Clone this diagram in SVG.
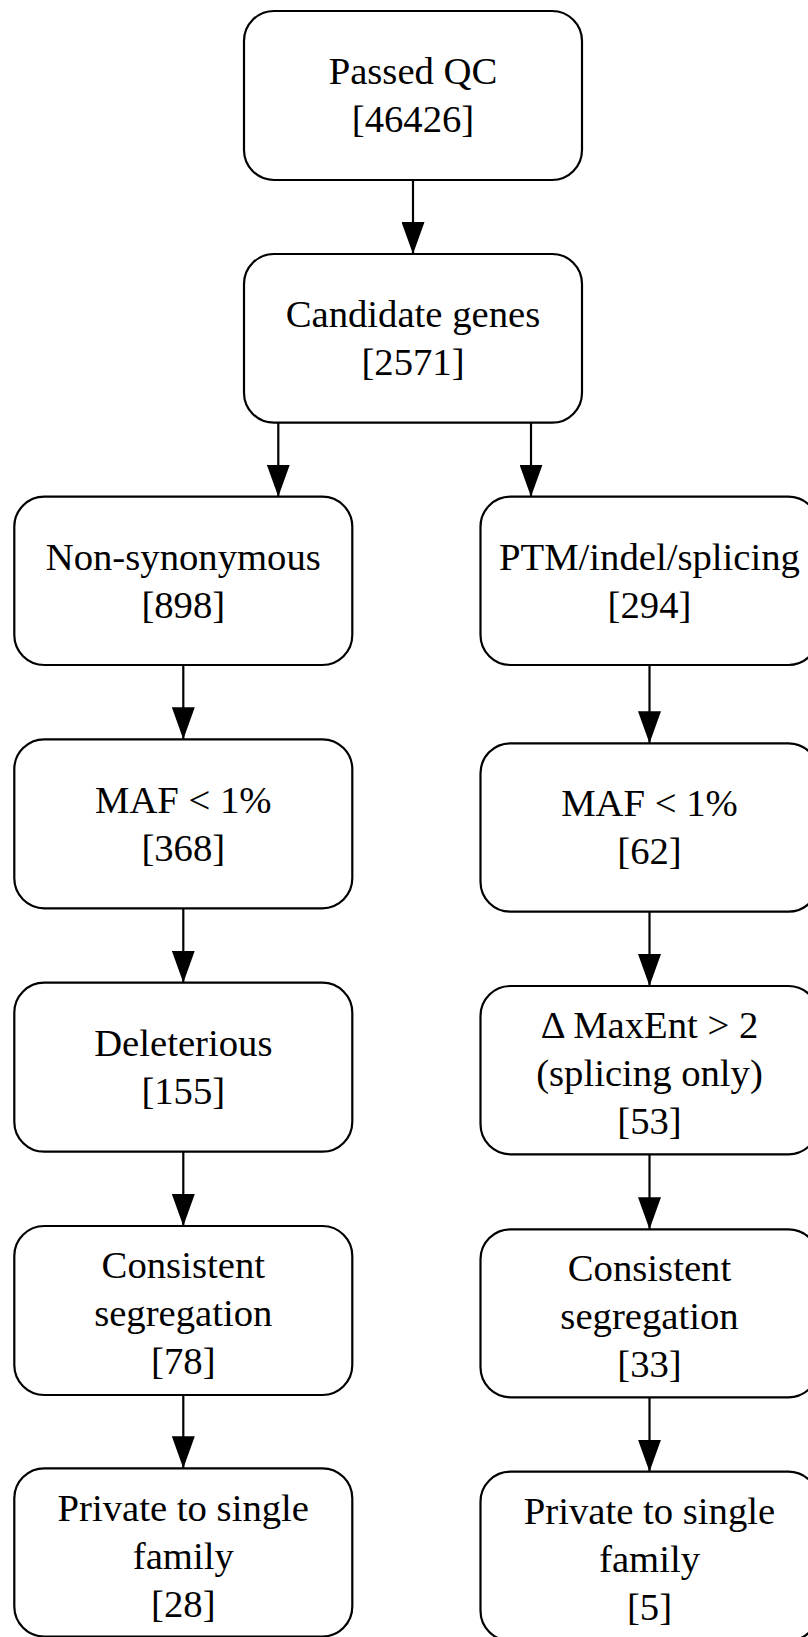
<svg xmlns="http://www.w3.org/2000/svg" width="808" height="1637" viewBox="0 0 808 1637">
<style>
.box{fill:#ffffff;stroke:#000000;stroke-width:2.2}
.lbl{font-family:"Liberation Serif","Times New Roman",serif;font-size:38.7px;fill:#000000;text-anchor:middle}
.edge{stroke:#000000;stroke-width:2.2;fill:none}
</style>
<defs>
<marker id="ah" viewBox="0 0 32 23" refX="32" refY="11.5" markerWidth="32" markerHeight="23" markerUnits="userSpaceOnUse" orient="auto">
<path d="M0,0 L32,11.5 L0,23 z" fill="#000000"/>
</marker>
</defs>
<rect width="808" height="1637" fill="#ffffff"/>
<g id="connectors">
<line class="edge" x1="413" y1="180" x2="413" y2="254" marker-end="url(#ah)"/>
<line class="edge" x1="278.3" y1="422.7" x2="278.3" y2="496.7" marker-end="url(#ah)"/>
<line class="edge" x1="531" y1="422.7" x2="531" y2="496.7" marker-end="url(#ah)"/>
<line class="edge" x1="183.3" y1="665" x2="183.3" y2="739.3" marker-end="url(#ah)"/>
<line class="edge" x1="183.3" y1="908.3" x2="183.3" y2="982.7" marker-end="url(#ah)"/>
<line class="edge" x1="183.3" y1="1151.7" x2="183.3" y2="1226" marker-end="url(#ah)"/>
<line class="edge" x1="183.3" y1="1395" x2="183.3" y2="1468.3" marker-end="url(#ah)"/>
<line class="edge" x1="649.5" y1="665" x2="649.5" y2="743.3" marker-end="url(#ah)"/>
<line class="edge" x1="649.5" y1="911.7" x2="649.5" y2="986" marker-end="url(#ah)"/>
<line class="edge" x1="649.5" y1="1154.3" x2="649.5" y2="1229.3" marker-end="url(#ah)"/>
<line class="edge" x1="649.5" y1="1397.3" x2="649.5" y2="1471.7" marker-end="url(#ah)"/>
</g>
<g id="passed_qc">
<rect class="box" x="244" y="11" width="338" height="169" rx="30" ry="30"/>
<text class="lbl" x="413" y="84.3">Passed QC</text>
<text class="lbl" x="413" y="132.3">[46426]</text>
</g>
<g id="candidate_genes">
<rect class="box" x="244" y="254" width="338" height="168.7" rx="30" ry="30"/>
<text class="lbl" x="413" y="327.1">Candidate genes</text>
<text class="lbl" x="413" y="375.1">[2571]</text>
</g>
<g id="non_synonymous">
<rect class="box" x="14.3" y="496.7" width="338" height="168.3" rx="30" ry="30"/>
<text class="lbl" x="183.3" y="569.6">Non-synonymous</text>
<text class="lbl" x="183.3" y="617.6">[898]</text>
</g>
<g id="ptm_indel_splicing">
<rect class="box" x="480.5" y="496.7" width="338" height="168.3" rx="30" ry="30"/>
<text class="lbl" x="649.5" y="569.6">PTM/indel/splicing</text>
<text class="lbl" x="649.5" y="617.6">[294]</text>
</g>
<g id="maf_left">
<rect class="box" x="14.3" y="739.3" width="338" height="169" rx="30" ry="30"/>
<text class="lbl" x="183.3" y="812.6">MAF &lt; 1%</text>
<text class="lbl" x="183.3" y="860.6">[368]</text>
</g>
<g id="maf_right">
<rect class="box" x="480.5" y="743.3" width="338" height="168.4" rx="30" ry="30"/>
<text class="lbl" x="649.5" y="816.3">MAF &lt; 1%</text>
<text class="lbl" x="649.5" y="864.3">[62]</text>
</g>
<g id="deleterious">
<rect class="box" x="14.3" y="982.7" width="338" height="169" rx="30" ry="30"/>
<text class="lbl" x="183.3" y="1056">Deleterious</text>
<text class="lbl" x="183.3" y="1104">[155]</text>
</g>
<g id="maxent">
<rect class="box" x="480.5" y="986" width="338" height="168.3" rx="30" ry="30"/>
<text class="lbl" x="649.5" y="1038.2">Δ MaxEnt &gt; 2</text>
<text class="lbl" x="649.5" y="1086.2">(splicing only)</text>
<text class="lbl" x="649.5" y="1134.2">[53]</text>
</g>
<g id="consistent_left">
<rect class="box" x="14.3" y="1226" width="338" height="169" rx="30" ry="30"/>
<text class="lbl" x="183.3" y="1278">Consistent</text>
<text class="lbl" x="183.3" y="1326">segregation</text>
<text class="lbl" x="183.3" y="1374">[78]</text>
</g>
<g id="consistent_right">
<rect class="box" x="480.5" y="1229.3" width="338" height="168" rx="30" ry="30"/>
<text class="lbl" x="649.5" y="1281">Consistent</text>
<text class="lbl" x="649.5" y="1329">segregation</text>
<text class="lbl" x="649.5" y="1377">[33]</text>
</g>
<g id="private_left">
<rect class="box" x="14.3" y="1468.3" width="338" height="168.2" rx="30" ry="30"/>
<text class="lbl" x="183.3" y="1520.6">Private to single</text>
<text class="lbl" x="183.3" y="1568.6">family</text>
<text class="lbl" x="183.3" y="1616.6">[28]</text>
</g>
<g id="private_right">
<rect class="box" x="480.5" y="1471.7" width="338" height="169" rx="30" ry="30"/>
<text class="lbl" x="649.5" y="1524.4">Private to single</text>
<text class="lbl" x="649.5" y="1572.4">family</text>
<text class="lbl" x="649.5" y="1620.4">[5]</text>
</g>
</svg>
